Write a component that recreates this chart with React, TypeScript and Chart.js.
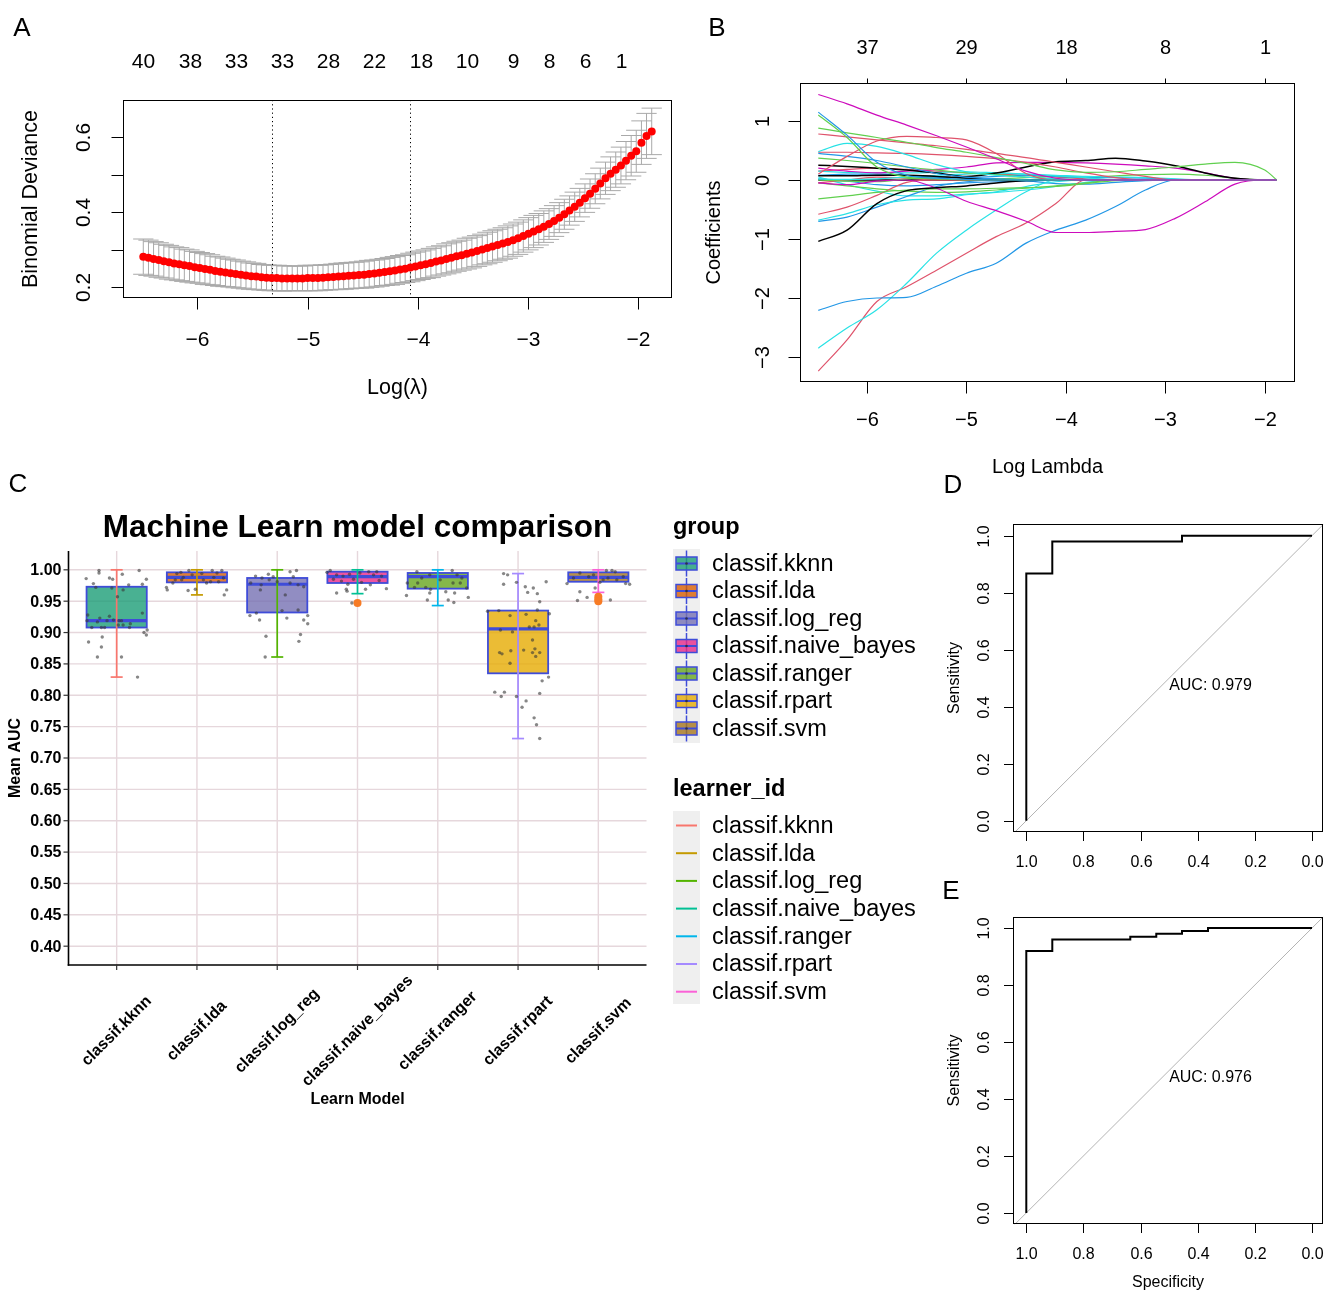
import React, { useEffect, useRef } from "react";
import { Chart, registerables } from "chart.js";

Chart.register(...registerables);

const FONT = '"Liberation Sans", Arial, Helvetica, sans-serif';

// ================= Panel A : cross-validated binomial deviance =================
const cvLogLambda = [
  -6.489, -6.442, -6.396, -6.349, -6.303, -6.256, -6.21, -6.163, -6.117, -6.07,
  -6.023, -5.977, -5.93, -5.884, -5.837, -5.791, -5.744, -5.698, -5.651, -5.604,
  -5.558, -5.511, -5.465, -5.418, -5.372, -5.325, -5.279, -5.232, -5.185, -5.139,
  -5.092, -5.046, -4.999, -4.953, -4.906, -4.86, -4.813, -4.766, -4.72, -4.673,
  -4.627, -4.58, -4.534, -4.487, -4.441, -4.394, -4.348, -4.301, -4.254, -4.208,
  -4.161, -4.115, -4.068, -4.022, -3.975, -3.929, -3.882, -3.835, -3.789, -3.742,
  -3.696, -3.649, -3.603, -3.556, -3.51, -3.463, -3.416, -3.37, -3.323, -3.277,
  -3.23, -3.184, -3.137, -3.091, -3.044, -2.997, -2.951, -2.904, -2.858, -2.811,
  -2.765, -2.718, -2.672, -2.625, -2.578, -2.532, -2.485, -2.439, -2.392, -2.346,
  -2.299, -2.253, -2.206, -2.159, -2.113, -2.066, -2.02, -1.973, -1.927, -1.88,
];
const cvDeviance = [
  0.281, 0.278, 0.275, 0.272, 0.269, 0.266, 0.263, 0.261, 0.258, 0.256,
  0.253, 0.251, 0.248, 0.246, 0.243, 0.241, 0.239, 0.237, 0.235, 0.233,
  0.231, 0.229, 0.228, 0.226, 0.225, 0.224, 0.224, 0.223, 0.223, 0.223,
  0.223, 0.223, 0.224, 0.224, 0.224, 0.225, 0.226, 0.227, 0.228, 0.229,
  0.23, 0.231, 0.232, 0.233, 0.235, 0.236, 0.238, 0.24, 0.242, 0.244,
  0.247, 0.249, 0.252, 0.255, 0.258, 0.261, 0.264, 0.268, 0.271, 0.275,
  0.278, 0.282, 0.285, 0.289, 0.292, 0.296, 0.3, 0.304, 0.308, 0.312,
  0.316, 0.32, 0.325, 0.33, 0.336, 0.342, 0.348, 0.354, 0.361, 0.368,
  0.376, 0.385, 0.394, 0.404, 0.414, 0.425, 0.437, 0.449, 0.462, 0.476,
  0.49, 0.502, 0.513, 0.524, 0.537, 0.55, 0.562, 0.585, 0.603, 0.615,
];
const cvStdErr = [
  0.047, 0.047, 0.046, 0.046, 0.045, 0.045, 0.044, 0.044, 0.043, 0.043,
  0.042, 0.041, 0.041, 0.04, 0.039, 0.039, 0.038, 0.037, 0.037, 0.036,
  0.036, 0.035, 0.035, 0.034, 0.034, 0.034, 0.034, 0.034, 0.033, 0.033,
  0.033, 0.033, 0.034, 0.034, 0.034, 0.034, 0.034, 0.034, 0.035, 0.035,
  0.035, 0.035, 0.035, 0.036, 0.036, 0.036, 0.036, 0.036, 0.037, 0.037,
  0.037, 0.037, 0.038, 0.038, 0.038, 0.038, 0.039, 0.039, 0.039, 0.04,
  0.04, 0.04, 0.04, 0.041, 0.041, 0.041, 0.041, 0.042, 0.042, 0.042,
  0.042, 0.043, 0.043, 0.043, 0.043, 0.043, 0.043, 0.042, 0.042, 0.041,
  0.041, 0.04, 0.04, 0.039, 0.039, 0.038, 0.038, 0.039, 0.04, 0.041,
  0.043, 0.045, 0.047, 0.049, 0.051, 0.054, 0.056, 0.058, 0.06, 0.062,
];
const cvLambdaMin = -5.325;
const cvLambda1se = -4.068;
const cvTopPositions = [-6.489, -6.07, -5.651, -5.232, -4.813, -4.394, -3.975, -3.556, -3.137, -2.811, -2.485, -2.159];
const cvTopLabels = ["40", "38", "33", "33", "28", "22", "18", "10", "9", "8", "6", "1"];
const cvXTicks = [-6, -5, -4, -3, -2];
const cvXTickLabels = ["\u22126", "\u22125", "\u22124", "\u22123", "\u22122"];
const cvYTicks = [0.2, 0.3, 0.4, 0.5, 0.6];
const cvYTickLabels = ["0.2", "", "0.4", "", "0.6"];

// ================= Panel B : coefficient paths =================
const coefLogLambda = [-6.489, -6.2, -5.9, -5.6, -5.3, -5.0, -4.7, -4.4, -4.1, -3.8, -3.5, -3.2, -2.9, -2.6, -2.3, -2.0, -1.88];
const path01 = [1.45, 1.29, 1.1, 0.93, 0.75, 0.56, 0.36, 0.15, 0.03, 0, 0, 0, 0, 0, 0, 0, 0];
const path02 = [1.15, 0.76, 0.3, 0.08, 0.03, 0.01, 0, 0, 0, 0, 0, 0, 0, 0, 0, 0, 0];
const path03 = [1.1, 0.72, 0.22, 0.05, 0.02, 0, 0, 0, 0, 0, 0, 0, 0, 0, 0, 0, 0];
const path04 = [0.88, 0.8, 0.72, 0.64, 0.55, 0.47, 0.38, 0.28, 0.17, 0.13, 0.14, 0.18, 0.22, 0.27, 0.3, 0.17, 0];
const path05 = [0.78, 0.73, 0.68, 0.63, 0.58, 0.52, 0.45, 0.38, 0.3, 0.22, 0.14, 0.06, 0, 0, 0, 0, 0];
const path06 = [0.1, 0.4, 0.66, 0.74, 0.72, 0.68, 0.45, 0.11, 0, 0, 0, 0, 0, 0, 0, 0, 0];
const path07 = [0.48, 0.62, 0.57, 0.43, 0.26, 0.14, 0.08, 0.05, 0.02, 0, 0, 0, 0, 0, 0, 0, 0];
const path08 = [0.45, 0.4, 0.33, 0.22, 0.11, 0.05, 0.02, 0, 0, 0, 0, 0, 0, 0, 0, 0, 0];
const path09 = [0.47, 0.47, 0.46, 0.45, 0.43, 0.4, 0.36, 0.3, 0.22, 0.12, 0.04, 0, 0, 0, 0, 0, 0];
const path10 = [0.37, 0.33, 0.28, 0.22, 0.17, 0.12, 0.09, 0.05, 0.02, 0, 0, 0, 0, 0, 0, 0, 0];
const path11 = [-1.04, -0.85, -0.4, -0.18, -0.13, -0.1, -0.05, -0.01, 0, 0, 0, 0, 0, 0, 0, 0, 0];
const path12 = [0.25, 0.23, 0.2, 0.17, 0.12, 0.06, 0.12, 0.22, 0.31, 0.33, 0.37, 0.32, 0.24, 0.12, 0.03, 0, 0];
const path13 = [0.07, 0.07, 0.08, 0.08, 0.06, 0.03, 0.01, 0, 0, 0, 0, 0, 0, 0, 0, 0, 0];
const path14 = [0.2, 0.15, 0.12, 0.15, 0.18, 0.22, 0.29, 0.3, 0.3, 0.29, 0.27, 0.24, 0.2, 0.12, 0.03, 0, 0];
const path15 = [-0.05, -0.08, -0.02, 0, -0.14, -0.36, -0.52, -0.7, -0.89, -0.89, -0.87, -0.84, -0.65, -0.37, -0.07, 0, 0];
const path16 = [-0.32, -0.27, -0.21, -0.17, -0.15, -0.15, -0.14, -0.13, -0.11, -0.06, -0.01, 0, 0, 0, 0, 0, 0];
const path17 = [-0.58, -0.46, -0.26, -0.04, 0, 0, 0, 0, 0, 0, 0, 0, 0, 0, 0, 0, 0];
const path18 = [-0.68, -0.57, -0.42, -0.34, -0.32, -0.25, -0.2, -0.11, -0.03, 0, 0, 0, 0, 0, 0, 0, 0];
const path19 = [-0.7, -0.63, -0.46, -0.28, -0.11, -0.03, 0, 0, 0, 0, 0, 0, 0, 0, 0, 0, 0];
const path20 = [-2.21, -2.06, -2.0, -1.99, -1.8, -1.58, -1.41, -1.07, -0.85, -0.68, -0.45, -0.17, 0, 0, 0, 0, 0];
const path21 = [-2.85, -2.51, -2.2, -1.75, -1.24, -0.85, -0.51, -0.2, 0, 0, 0, 0, 0, 0, 0, 0, 0];
const path22 = [-3.24, -2.71, -2.06, -1.81, -1.53, -1.24, -0.96, -0.73, -0.4, 0, 0, 0, 0, 0, 0, 0, 0];
const path23 = [0.15, 0.13, 0.12, 0.12, 0.13, 0.14, 0.12, 0.1, 0.07, 0.04, 0, 0, 0, 0, 0, 0, 0];
const path24 = [0.02, 0.01, 0.02, 0.05, 0.08, 0.1, 0.12, 0.1, 0.08, 0.06, 0.05, 0.04, 0.02, 0, 0, 0, 0];
const path25 = [0.08, 0.1, 0.1, 0.08, 0.05, 0.04, 0.06, 0.08, 0.06, 0.04, 0.04, 0.03, 0.01, 0, 0, 0, 0];
const path26 = [0, -0.02, -0.03, 0.02, 0.05, 0.03, 0.02, 0.04, 0.06, 0.05, 0.07, 0.09, 0.1, 0.08, 0.03, 0, 0];
const path27 = [-0.05, 0, 0.05, 0.03, 0, 0, 0, 0, 0, 0, 0, 0, 0, 0, 0, 0, 0];
const path28 = [-0.05, -0.1, -0.15, -0.19, -0.21, -0.2, -0.17, -0.14, -0.1, -0.05, 0, 0, 0, 0, 0, 0, 0];
const path29 = [0.05, -0.08, -0.19, -0.27, -0.27, -0.24, -0.21, -0.17, -0.11, -0.04, 0, 0, 0, 0, 0, 0, 0];
const path30 = [0.02, -0.02, -0.08, -0.1, -0.08, -0.05, -0.03, -0.02, -0.06, -0.07, -0.04, -0.01, 0, 0, 0, 0, 0];
const path31 = [0.15, 0.18, 0.2, 0.18, 0.15, 0.12, 0.1, 0.08, 0.05, 0.02, 0, 0, 0, 0, 0, 0, 0];
const path32 = [0, 0, 0, 0, 0, 0, 0, 0, 0, 0, 0, 0, 0, 0, 0, 0, 0];
const coefPaths = [path01, path02, path03, path04, path05, path06, path07, path08, path09, path10, path11, path12, path13, path14, path15, path16, path17, path18, path19, path20, path21, path22, path23, path24, path25, path26, path27, path28, path29, path30, path31, path32];
const coefPathColors = [
  "#CD0BBC", "#2297E6", "#61D04F", "#61D04F", "#DF536B", "#DF536B", "#28E2E5", "#2297E6",
  "#DF536B", "#61D04F", "#000000", "#000000", "#000000", "#CD0BBC", "#CD0BBC", "#61D04F",
  "#DF536B", "#28E2E5", "#2297E6", "#2297E6", "#28E2E5", "#DF536B", "#28E2E5", "#28E2E5",
  "#2297E6", "#61D04F", "#DF536B", "#61D04F", "#28E2E5", "#2297E6", "#DF536B", "#000000",
];
const coefXTicks = [-6, -5, -4, -3, -2];
const coefXTickLabels = ["\u22126", "\u22125", "\u22124", "\u22123", "\u22122"];
const coefTopLabels = ["37", "29", "18", "8", "1"];
const coefYTicks = [-3, -2, -1, 0, 1];
const coefYTickLabels = ["\u22123", "\u22122", "\u22121", "0", "1"];

// ================= Panel C : model comparison box plot =================
const learners = ["classif.kknn", "classif.lda", "classif.log_reg", "classif.naive_bayes", "classif.ranger", "classif.rpart", "classif.svm"];
const boxQ1 = [0.908, 0.98, 0.932, 0.979, 0.97, 0.835, 0.981];
const boxMedian = [0.919, 0.988, 0.977, 0.989, 0.989, 0.906, 0.988];
const boxQ3 = [0.973, 0.996, 0.987, 0.997, 0.995, 0.935, 0.996];
const whiskerLow = [0.829, 0.96, 0.861, 0.962, 0.943, 0.731, 0.964];
const whiskerHigh = [1.0, 1.0, 1.0, 1.0, 1.0, 0.994, 1.0];
const outlierGroup = [4, 7, 7, 7];
const outlierAuc = [0.947, 0.957, 0.953, 0.95];
const groupFills = ["rgba(27,158,119,0.8)", "rgba(217,95,2,0.8)", "rgba(117,112,179,0.8)", "rgba(231,41,138,0.8)", "rgba(102,166,30,0.8)", "rgba(230,171,2,0.8)", "rgba(166,118,29,0.8)"];
const learnerColors = ["#F8766D", "#C49A00", "#53B400", "#00C094", "#00B6EB", "#A58AFF", "#FB61D7"];
const aucTicks = [0.4, 0.45, 0.5, 0.55, 0.6, 0.65, 0.7, 0.75, 0.8, 0.85, 0.9, 0.95, 1.0];
const aucTickLabels = ["0.40", "0.45", "0.50", "0.55", "0.60", "0.65", "0.70", "0.75", "0.80", "0.85", "0.90", "0.95", "1.00"];
const jitterKknn = [[-0.38, 0.986], [-0.22, 0.999], [-0.22, 0.995], [-0.29, 0.978], [-0.26, 0.972], [-0.09, 0.987], [-0.05, 0.985], [0.07, 0.993], [0.28, 0.999], [0.37, 0.985], [0.32, 0.977], [0.15, 0.976], [0.08, 0.968], [0.01, 0.957], [-0.06, 0.971], [-0.36, 0.928], [-0.24, 0.917], [-0.21, 0.923], [-0.12, 0.919], [-0.09, 0.926], [-0.04, 0.92], [0.03, 0.919], [0.06, 0.919], [0.32, 0.931], [-0.37, 0.919], [-0.31, 0.908], [-0.19, 0.908], [-0.15, 0.908], [0.02, 0.912], [0.08, 0.912], [0.16, 0.908], [0.17, 0.914], [0.34, 0.9], [0.37, 0.896], [0.38, 0.904], [-0.35, 0.885], [-0.18, 0.893], [-0.19, 0.877], [-0.24, 0.861], [0.06, 0.861], [0.26, 0.829]];
const jitterLda = [[-0.38, 0.972], [-0.37, 0.968], [-0.3, 0.979], [-0.25, 0.994], [-0.2, 0.996], [-0.17, 0.988], [-0.1, 0.999], [-0.11, 0.967], [-0.02, 0.969], [0.12, 0.979], [0.19, 0.999], [0.25, 0.995], [0.31, 0.999], [0.33, 0.987], [0.37, 0.968], [0.34, 0.96], [-0.19, 0.984], [-0.27, 0.984], [0.06, 0.994], [0.21, 0.988], [0.27, 0.981], [0.08, 0.984], [-0.06, 0.992], [0.17, 0.981]];
const jitterLogReg = [[-0.34, 0.927], [-0.26, 0.931], [-0.22, 0.92], [-0.33, 0.979], [-0.27, 0.99], [-0.2, 0.976], [-0.19, 0.987], [-0.11, 0.993], [-0.1, 0.984], [-0.05, 0.989], [0.0, 0.981], [0.06, 0.935], [0.1, 0.96], [0.12, 0.923], [0.16, 0.997], [0.2, 0.989], [0.24, 0.999], [0.26, 0.976], [0.26, 0.936], [0.33, 0.92], [0.38, 0.927], [0.38, 0.914], [0.29, 0.897], [0.27, 0.886], [-0.14, 0.894], [-0.15, 0.861], [-0.21, 0.968], [0.16, 0.979], [0.33, 0.973]];
const jitterNaiveBayes = [[-0.38, 0.996], [-0.34, 0.999], [-0.26, 0.963], [-0.2, 0.982], [-0.14, 0.969], [-0.12, 0.977], [-0.18, 0.99], [-0.26, 0.992], [-0.13, 0.966], [-0.07, 0.947], [0.1, 0.969], [0.16, 0.976], [0.2, 0.992], [0.24, 0.997], [0.3, 0.99], [0.36, 0.97], [0.03, 0.995], [0.14, 0.997], [-0.05, 0.985], [0.05, 0.98], [-0.3, 0.985], [0.27, 0.983], [-0.1, 0.993]];
const jitterRanger = [[-0.39, 0.959], [-0.38, 0.979], [-0.26, 0.997], [-0.2, 0.987], [-0.13, 0.952], [-0.1, 0.963], [-0.15, 0.972], [-0.09, 0.969], [0.1, 0.965], [0.13, 0.952], [0.2, 0.948], [0.21, 0.963], [0.38, 0.956], [0.36, 0.971], [0.18, 0.999], [0.24, 0.992], [0.28, 0.979], [-0.25, 0.979], [0.19, 0.979], [-0.1, 0.992], [0.03, 0.984], [-0.29, 0.972], [0.3, 0.987]];
const jitterRpart = [[-0.18, 0.994], [-0.13, 0.992], [-0.02, 0.98], [-0.18, 0.977], [0.09, 0.973], [0.19, 0.971], [0.12, 0.964], [0.24, 0.962], [0.35, 0.981], [0.27, 0.949], [-0.38, 0.934], [-0.24, 0.935], [-0.1, 0.927], [0.1, 0.929], [0.24, 0.936], [0.22, 0.919], [0.26, 0.912], [0.14, 0.909], [0.2, 0.909], [-0.22, 0.904], [-0.07, 0.901], [0.18, 0.888], [-0.23, 0.868], [-0.2, 0.866], [-0.09, 0.871], [0.07, 0.872], [0.21, 0.874], [0.18, 0.868], [0.27, 0.868], [0.22, 0.862], [-0.1, 0.851], [0.38, 0.829], [0.3, 0.823], [-0.29, 0.805], [-0.17, 0.805], [-0.21, 0.798], [-0.02, 0.798], [0.27, 0.803], [0.1, 0.791], [0.05, 0.781], [0.2, 0.764], [0.23, 0.753], [0.27, 0.731], [0.39, 0.93]];
const jitterSvm = [[-0.39, 0.978], [-0.23, 0.965], [-0.26, 0.951], [-0.14, 0.956], [-0.04, 0.971], [0.15, 0.952], [0.34, 0.978], [0.39, 0.977], [0.1, 0.999], [0.17, 0.999], [0.21, 0.997], [-0.23, 0.995], [-0.31, 0.987], [-0.12, 0.989], [0.06, 0.984], [0.23, 0.984], [0.31, 0.989], [-0.06, 0.992], [0.02, 0.98], [0.12, 0.987]];
const jitterGroups = [jitterKknn, jitterLda, jitterLogReg, jitterNaiveBayes, jitterRanger, jitterRpart, jitterSvm];
const chartTitleC = "Machine Learn model comparison";

// ================= Panels D & E : ROC curves =================
const rocDSpecificity = [1.0, 1.0, 0.909, 0.909, 0.455, 0.455, 0.0];
const rocDSensitivity = [0.0, 0.867, 0.867, 0.98, 0.98, 1.0, 1.0];
const rocDAuc = "AUC: 0.979";
const rocESpecificity = [1.0, 1.0, 0.909, 0.909, 0.636, 0.636, 0.545, 0.545, 0.455, 0.455, 0.364, 0.364, 0.0];
const rocESensitivity = [0.0, 0.92, 0.92, 0.96, 0.96, 0.97, 0.97, 0.98, 0.98, 0.99, 0.99, 1.0, 1.0];
const rocEAuc = "AUC: 0.976";
const rocTicks = [1.0, 0.8, 0.6, 0.4, 0.2, 0.0];
const rocTickLabels = ["1.0", "0.8", "0.6", "0.4", "0.2", "0.0"];

// ================= helpers =================
function seg(ctx: any, x1: number, y1: number, x2: number, y2: number) {
  ctx.beginPath();
  ctx.moveTo(x1, y1);
  ctx.lineTo(x2, y2);
  ctx.stroke();
}

function drawRAxes(chart: any, s: any) {
  const { ctx, chartArea: a, scales } = chart;
  const sx = scales.x;
  const sy = scales.y;
  ctx.save();
  ctx.strokeStyle = "#000";
  ctx.fillStyle = "#000";
  ctx.lineWidth = 1;
  const L = Math.round(a.left) + 0.5;
  const R = Math.round(a.right) - 0.5;
  const T = Math.round(a.top) + 0.5;
  const B = Math.round(a.bottom) - 0.5;
  ctx.strokeRect(L, T, R - L, B - T);
  ctx.font = s.font;
  ctx.textAlign = "center";
  ctx.textBaseline = "middle";
  if (s.bottom) {
    s.bottom.ticks.forEach((v: number, i: number) => {
      const p = Math.round(sx.getPixelForValue(v)) + 0.5;
      seg(ctx, p, B, p, B + s.bottom.tickLen);
      const t = s.bottom.labels[i];
      if (t) ctx.fillText(t, p, B + s.bottom.labelOffset);
    });
  }
  if (s.top) {
    s.top.ticks.forEach((v: number, i: number) => {
      const p = Math.round(sx.getPixelForValue(v)) + 0.5;
      if (s.top.tickLen > 0) seg(ctx, p, T, p, T - s.top.tickLen);
      const t = s.top.labels[i];
      if (t) ctx.fillText(t, p, T - s.top.labelOffset);
    });
  }
  if (s.left) {
    s.left.ticks.forEach((v: number, i: number) => {
      const p = Math.round(sy.getPixelForValue(v)) + 0.5;
      seg(ctx, L - s.left.tickLen, p, L, p);
      const t = s.left.labels[i];
      if (t) {
        ctx.save();
        ctx.translate(L - s.left.labelOffset, p);
        ctx.rotate(-Math.PI / 2);
        ctx.fillText(t, 0, 0);
        ctx.restore();
      }
    });
  }
  ctx.font = s.titleFont || s.font;
  if (s.xTitle) ctx.fillText(s.xTitle, (L + R) / 2, B + s.xTitleOffset);
  if (s.yTitle) {
    ctx.save();
    ctx.translate(L - s.yTitleOffset, (T + B) / 2);
    ctx.rotate(-Math.PI / 2);
    ctx.fillText(s.yTitle, 0, 0);
    ctx.restore();
  }
  ctx.restore();
}

const baseOptions = {
  animation: false,
  responsive: false,
  events: [],
  plugins: { legend: { display: false }, tooltip: { enabled: false } },
};

// ================= chart configs =================
function makeA() {
  const errorBars = {
    id: "cvErrorBars",
    beforeDatasetsDraw(chart: any) {
      const { ctx, chartArea: a, scales } = chart;
      const sx = scales.x;
      const sy = scales.y;
      ctx.save();
      ctx.strokeStyle = "#A9A9A9";
      ctx.lineWidth = 1;
      cvLogLambda.forEach((lx, i) => {
        const px = sx.getPixelForValue(lx);
        const cw = sx.getPixelForValue(lx + 0.092) - px;
        const hi = sy.getPixelForValue(cvDeviance[i] + cvStdErr[i]);
        const lo = sy.getPixelForValue(cvDeviance[i] - cvStdErr[i]);
        seg(ctx, px, hi, px, lo);
        seg(ctx, px - cw, hi, px + cw, hi);
        seg(ctx, px - cw, lo, px + cw, lo);
      });
      ctx.strokeStyle = "#000";
      ctx.setLineDash([1.2, 3]);
      [cvLambdaMin, cvLambda1se].forEach((v) => {
        const px = Math.round(sx.getPixelForValue(v)) + 0.5;
        seg(ctx, px, a.top, px, a.bottom);
      });
      ctx.restore();
    },
    afterDraw(chart: any) {
      drawRAxes(chart, {
        font: `21px ${FONT}`,
        bottom: { ticks: cvXTicks, labels: cvXTickLabels, tickLen: 12, labelOffset: 42.5 },
        top: { ticks: cvTopPositions, labels: cvTopLabels, tickLen: 0, labelOffset: 38.5 },
        left: { ticks: cvYTicks, labels: cvYTickLabels, tickLen: 12, labelOffset: 39.5 },
        xTitle: "Log(\u03bb)",
        xTitleOffset: 90.5,
        yTitle: "Binomial Deviance",
        yTitleOffset: 92.5,
        titleFont: `21.5px ${FONT}`,
      });
    },
  };
  return {
    type: "scatter",
    data: {
      datasets: [
        {
          data: cvLogLambda.map((x, i) => ({ x, y: cvDeviance[i] })),
          pointRadius: 4,
          pointBackgroundColor: "#FF0000",
          pointBorderWidth: 0,
          showLine: false,
        },
      ],
    },
    options: {
      ...baseOptions,
      layout: { padding: { left: 123, top: 100, right: 18, bottom: 132 } },
      scales: {
        x: { type: "linear", display: false, min: -6.673, max: -1.696 },
        y: { type: "linear", display: false, min: 0.1707, max: 0.6987 },
      },
    },
    plugins: [errorBars],
  };
}

function makeB() {
  const axes = {
    id: "coefAxes",
    afterDraw(chart: any) {
      drawRAxes(chart, {
        font: `20px ${FONT}`,
        bottom: { ticks: coefXTicks, labels: coefXTickLabels, tickLen: 12, labelOffset: 38.5 },
        top: { ticks: coefXTicks, labels: coefTopLabels, tickLen: 5, labelOffset: 35.5 },
        left: { ticks: coefYTicks, labels: coefYTickLabels, tickLen: 12, labelOffset: 37.5 },
        xTitle: "Log Lambda",
        xTitleOffset: 85.5,
        yTitle: "Coefficients",
        yTitleOffset: 86.5,
      });
    },
  };
  return {
    type: "line",
    data: {
      datasets: coefPaths.map((p, k) => ({
        data: coefLogLambda.map((x, i) => ({ x, y: p[i] })),
        borderColor: coefPathColors[k],
        borderWidth: coefPathColors[k] === "#000000" ? 1.5 : 1.2,
        pointRadius: 0,
        cubicInterpolationMode: "monotone",
        fill: false,
      })),
    },
    options: {
      ...baseOptions,
      layout: { padding: { left: 110, top: 83, right: 30, bottom: 98 } },
      scales: {
        x: { type: "linear", display: false, min: -6.673, max: -1.696 },
        y: { type: "linear", display: false, min: -3.424, max: 1.644 },
      },
    },
    plugins: [axes],
  };
}

function makeC() {
  const panel = {
    id: "boxPanel",
    beforeDatasetsDraw(chart: any) {
      const { ctx, chartArea: a, scales } = chart;
      const sx = scales.x;
      const sy = scales.y;
      ctx.save();
      ctx.strokeStyle = "#E6D7DC";
      ctx.lineWidth = 1.4;
      aucTicks.forEach((v) => {
        const p = sy.getPixelForValue(v);
        seg(ctx, a.left, p, a.right, p);
      });
      learners.forEach((_, i) => {
        const p = sx.getPixelForValue(i + 1);
        seg(ctx, p, a.top, p, a.bottom);
      });
      learners.forEach((_, i) => {
        const x0 = sx.getPixelForValue(i + 1 - 0.375);
        const x1 = sx.getPixelForValue(i + 1 + 0.375);
        const q1 = sy.getPixelForValue(boxQ1[i]);
        const q3 = sy.getPixelForValue(boxQ3[i]);
        const md = sy.getPixelForValue(boxMedian[i]);
        ctx.fillStyle = groupFills[i];
        ctx.fillRect(x0, q3, x1 - x0, q1 - q3);
        ctx.strokeStyle = "#3F4CD8";
        ctx.lineWidth = 1.8;
        ctx.strokeRect(x0, q3, x1 - x0, q1 - q3);
        ctx.lineWidth = 3.2;
        seg(ctx, x0, md, x1, md);
      });
      learners.forEach((_, i) => {
        const px = sx.getPixelForValue(i + 1);
        const cw = sx.getPixelForValue(i + 1 + 0.075) - px;
        const lo = sy.getPixelForValue(whiskerLow[i]);
        const hi = sy.getPixelForValue(whiskerHigh[i]);
        ctx.strokeStyle = learnerColors[i];
        ctx.lineWidth = 1.7;
        seg(ctx, px, lo, px, hi);
        seg(ctx, px - cw, lo, px + cw, lo);
        seg(ctx, px - cw, hi, px + cw, hi);
      });
      ctx.restore();
    },
    afterDraw(chart: any) {
      const { ctx, chartArea: a, scales } = chart;
      const sx = scales.x;
      const sy = scales.y;
      ctx.save();
      ctx.strokeStyle = "#000";
      ctx.lineWidth = 1.6;
      seg(ctx, a.left, a.top, a.left, a.bottom + 0.8);
      seg(ctx, a.left - 0.8, a.bottom, a.right, a.bottom);
      ctx.strokeStyle = "#333";
      ctx.lineWidth = 1.2;
      aucTicks.forEach((v) => {
        const p = sy.getPixelForValue(v);
        seg(ctx, a.left - 5, p, a.left, p);
      });
      learners.forEach((_, i) => {
        const p = sx.getPixelForValue(i + 1);
        seg(ctx, p, a.bottom, p, a.bottom + 5);
      });
      ctx.fillStyle = "#000";
      ctx.font = `bold 16px ${FONT}`;
      ctx.textAlign = "right";
      ctx.textBaseline = "middle";
      aucTicks.forEach((v, i) => ctx.fillText(aucTickLabels[i], a.left - 7, sy.getPixelForValue(v) + 1));
      ctx.textAlign = "center";
      learners.forEach((name, i) => {
        ctx.save();
        ctx.translate(sx.getPixelForValue(i + 1), a.bottom + 66);
        ctx.rotate(-Math.PI / 4);
        ctx.fillText(name, 0, 0);
        ctx.restore();
      });
      ctx.fillText("Learn Model", (a.left + a.right) / 2, a.bottom + 135);
      ctx.save();
      ctx.translate(16, (a.top + a.bottom) / 2);
      ctx.rotate(-Math.PI / 2);
      ctx.fillText("Mean AUC", 0, 0);
      ctx.restore();
      ctx.font = `bold 31.5px ${FONT}`;
      ctx.fillText(chartTitleC, (a.left + a.right) / 2, 33);

      // ---- legends ----
      const kx = 673;
      ctx.textAlign = "left";
      ctx.font = `bold 23.5px ${FONT}`;
      ctx.fillText("group", kx, 33);
      ctx.fillText("learner_id", kx, 295);
      ctx.fillStyle = "#EFEFEF";
      ctx.fillRect(kx, 54, 27, 194);
      ctx.fillRect(kx, 316, 27, 193);
      ctx.font = `23.5px ${FONT}`;
      learners.forEach((name, i) => {
        const c = 68.5 + i * 27.5;
        const cx = kx + 13.5;
        ctx.strokeStyle = "#3F4CD8";
        ctx.lineWidth = 1.5;
        seg(ctx, cx, c - 13, cx, c + 13);
        ctx.fillStyle = groupFills[i];
        ctx.fillRect(kx + 3, c - 6.5, 21, 13);
        ctx.strokeRect(kx + 3, c - 6.5, 21, 13);
        ctx.lineWidth = 2;
        seg(ctx, kx + 3, c, kx + 24, c);
        ctx.fillStyle = "rgba(40,40,40,0.8)";
        ctx.beginPath();
        ctx.arc(cx, c, 1.3, 0, Math.PI * 2);
        ctx.fill();
        ctx.fillStyle = "#000";
        ctx.fillText(name, 712, c + 1);
      });
      learners.forEach((name, i) => {
        const c = 330.5 + i * 27.7;
        ctx.strokeStyle = learnerColors[i];
        ctx.lineWidth = 2;
        seg(ctx, kx + 3, c, kx + 24, c);
        ctx.fillStyle = "#000";
        ctx.fillText(name, 712, c + 1);
      });
      ctx.restore();
    },
  };
  const jitterData = jitterGroups.flatMap((g, gi) => g.map(([dx, v]) => ({ x: gi + 1 + dx, y: v })));
  const outlierData = outlierGroup.map((g, i) => ({ x: g, y: outlierAuc[i] }));
  return {
    type: "scatter",
    data: {
      datasets: [
        {
          data: jitterData,
          order: 0,
          pointRadius: 1.7,
          pointBackgroundColor: "rgba(55,55,55,0.6)",
          pointBorderWidth: 0,
        },
        {
          data: outlierData,
          order: 1,
          pointRadius: 4,
          pointBackgroundColor: "#F77B25",
          pointBorderWidth: 0,
        },
      ],
    },
    options: {
      ...baseOptions,
      layout: { padding: { left: 68.5, top: 56, right: 283.5, bottom: 145 } },
      scales: {
        x: { type: "linear", display: false, min: 0.4, max: 7.6 },
        y: { type: "linear", display: false, min: 0.37, max: 1.03 },
      },
    },
    plugins: [panel],
  };
}

function makeRoc(spec: number[], sens: number[], aucText: string, xTitle: string | null, bottomPad: number, topPad: number) {
  const deco = {
    id: "rocDeco",
    beforeDatasetsDraw(chart: any) {
      const { ctx, chartArea: a, scales } = chart;
      ctx.save();
      ctx.beginPath();
      ctx.rect(a.left, a.top, a.right - a.left, a.bottom - a.top);
      ctx.clip();
      ctx.strokeStyle = "#B4B4B4";
      ctx.lineWidth = 1;
      seg(ctx, scales.x.getPixelForValue(1.2), scales.y.getPixelForValue(-0.2), scales.x.getPixelForValue(-0.2), scales.y.getPixelForValue(1.2));
      ctx.restore();
    },
    afterDraw(chart: any) {
      const { ctx, scales } = chart;
      drawRAxes(chart, {
        font: `16px ${FONT}`,
        bottom: { ticks: rocTicks, labels: rocTickLabels, tickLen: 9.5, labelOffset: 31 },
        left: { ticks: rocTicks, labels: rocTickLabels, tickLen: 9.5, labelOffset: 28.5 },
        xTitle: xTitle,
        xTitleOffset: 59.5,
        yTitle: "Sensitivity",
        yTitleOffset: 58.5,
      });
      ctx.save();
      ctx.fillStyle = "#000";
      ctx.font = `16px ${FONT}`;
      ctx.textAlign = "left";
      ctx.textBaseline = "middle";
      ctx.fillText(aucText, scales.x.getPixelForValue(0.5), scales.y.getPixelForValue(0.5) + 7);
      ctx.restore();
    },
  };
  return {
    type: "line",
    data: {
      datasets: [
        {
          data: spec.map((x, i) => ({ x, y: sens[i] })),
          borderColor: "#000",
          borderWidth: 2,
          pointRadius: 0,
          tension: 0,
          fill: false,
        },
      ],
    },
    options: {
      ...baseOptions,
      layout: { padding: { left: 83.3, top: topPad, right: 1.6, bottom: bottomPad } },
      scales: {
        x: { type: "linear", display: false, min: -0.04, max: 1.0455, reverse: true },
        y: { type: "linear", display: false, min: -0.04, max: 1.04 },
      },
    },
    plugins: [deco],
  };
}

function ChartCanvas(props: { left: number; top: number; width: number; height: number; make: () => any }) {
  const ref = useRef<HTMLCanvasElement>(null);
  useEffect(() => {
    const chart = new Chart(ref.current as HTMLCanvasElement, props.make());
    return () => chart.destroy();
  }, []);
  return (
    <canvas
      ref={ref}
      width={props.width}
      height={props.height}
      style={{ position: "absolute", left: props.left, top: props.top, width: props.width, height: props.height }}
    />
  );
}

function PanelLetter(props: { x: number; y: number; text: string }) {
  return (
    <span
      style={{
        position: "absolute",
        left: props.x,
        top: props.y,
        transform: "translate(-50%, -50%)",
        font: `26px ${FONT}`,
        lineHeight: 1,
        color: "#000",
      }}
    >
      {props.text}
    </span>
  );
}

export default function App() {
  return (
    <div style={{ position: "absolute", left: 0, top: 0, width: 1325, height: 1294, background: "#fff", overflow: "hidden" }}>
      <ChartCanvas left={0} top={0} width={690} height={430} make={makeA} />
      <ChartCanvas left={690} top={0} width={635} height={480} make={makeB} />
      <ChartCanvas left={0} top={495} width={930} height={615} make={makeC} />
      <ChartCanvas left={930} top={470} width={395} height={405} make={() => makeRoc(rocDSpecificity, rocDSensitivity, rocDAuc, null, 42.9, 54.3)} />
      <ChartCanvas left={930} top={872} width={395} height={422} make={() => makeRoc(rocESpecificity, rocESensitivity, rocEAuc, "Specificity", 69.7, 44.7)} />
      <PanelLetter x={22} y={27} text="A" />
      <PanelLetter x={717} y={27} text="B" />
      <PanelLetter x={18} y={483} text="C" />
      <PanelLetter x={953} y={484} text="D" />
      <PanelLetter x={951} y={890} text="E" />
    </div>
  );
}
